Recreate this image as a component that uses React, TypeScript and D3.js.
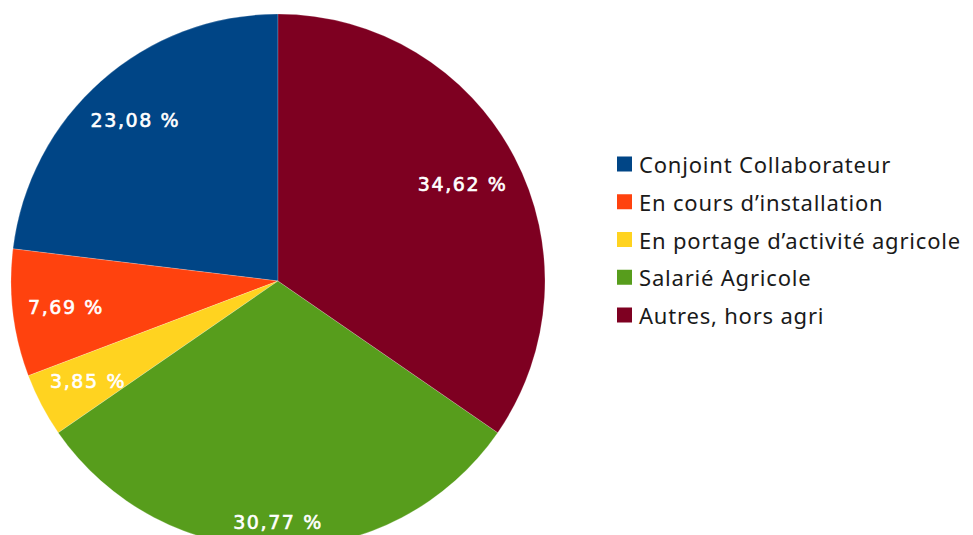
import React from 'react';
import * as d3 from 'd3';

const categories = [
  'Conjoint Collaborateur',
  'En cours d\u2019installation',
  'En portage d\u2019activité agricole',
  'Salarié Agricole',
  'Autres, hors agri',
];
const counts = [6, 2, 1, 8, 9];
const colors = ['#004586', '#ff420e', '#ffd320', '#579d1c', '#7e0021'];

const W = 973;
const H = 535;

export default function App() {
  const cx = 278;
  const cy = 281;
  const r = 267;
  const total = d3.sum(counts);

  // LibreOffice draws counterclockwise from 12 o'clock
  const pie = d3.pie<number>().sort(null).startAngle(0).endAngle(-2 * Math.PI);
  const arcs = pie(counts);
  const arc = d3.arc<d3.PieArcDatum<number>>().innerRadius(0).outerRadius(r);

  const fmt = (v: number) => d3.format('.2f')((v / total) * 100).replace('.', ',') + ' %';

  // put the label along the bisector so that its outer box corner sits a bit inside the rim
  const labelPos = (a: d3.PieArcDatum<number>, text: string) => {
    const mid = (a.startAngle + a.endAngle) / 2;
    const dx = Math.abs(Math.sin(mid));
    const dy = Math.abs(Math.cos(mid));
    const hw = text.length * 6.6;
    const hh = 9;
    const lim = r - 13;
    const b = 2 * (dx * hw + dy * hh);
    const c = hw * hw + hh * hh - lim * lim;
    const t = (-b + Math.sqrt(b * b - 4 * c)) / 2;
    return [Math.sin(mid) * t, -Math.cos(mid) * t];
  };

  const legendY = d3.scalePoint<string>().domain(categories).range([164, 315]);

  return (
    <svg width={W} height={H} style={{ position: 'absolute', left: 0, top: 0, background: '#fff' }}>
      <g transform={`translate(${cx},${cy})`}>
        {arcs.map((a, i) => (
          <path key={i} d={arc(a) || ''} fill={colors[i]} stroke="#ffffff" strokeOpacity={0.35} strokeWidth={0.6} />
        ))}
        {arcs.map((a, i) => {
          const label = fmt(counts[i]);
          const [x, y] = labelPos(a, label);
          return (
            <text
              key={'l' + i}
              x={x}
              y={y}
              textAnchor="middle"
              dominantBaseline="central"
              fill="#ffffff"
              stroke="#ffffff"
              strokeWidth={0.6}
              fontFamily="'DejaVu Sans', sans-serif"
              fontSize={19}
              letterSpacing={1.6}
            >
              {label}
            </text>
          );
        })}
      </g>
      <g>
        {categories.map((c, i) => (
          <g key={c} transform={`translate(617,${legendY(c)})`}>
            <rect x={0} y={-7.5} width={15} height={15} fill={colors[i]} />
            <text
              x={22}
              y={0}
              dominantBaseline="central"
              fill="#1a1a1a"
              fontFamily="'Noto Sans', sans-serif"
              fontSize={22}
              letterSpacing={0.8}
            >
              {c}
            </text>
          </g>
        ))}
      </g>
    </svg>
  );
}
